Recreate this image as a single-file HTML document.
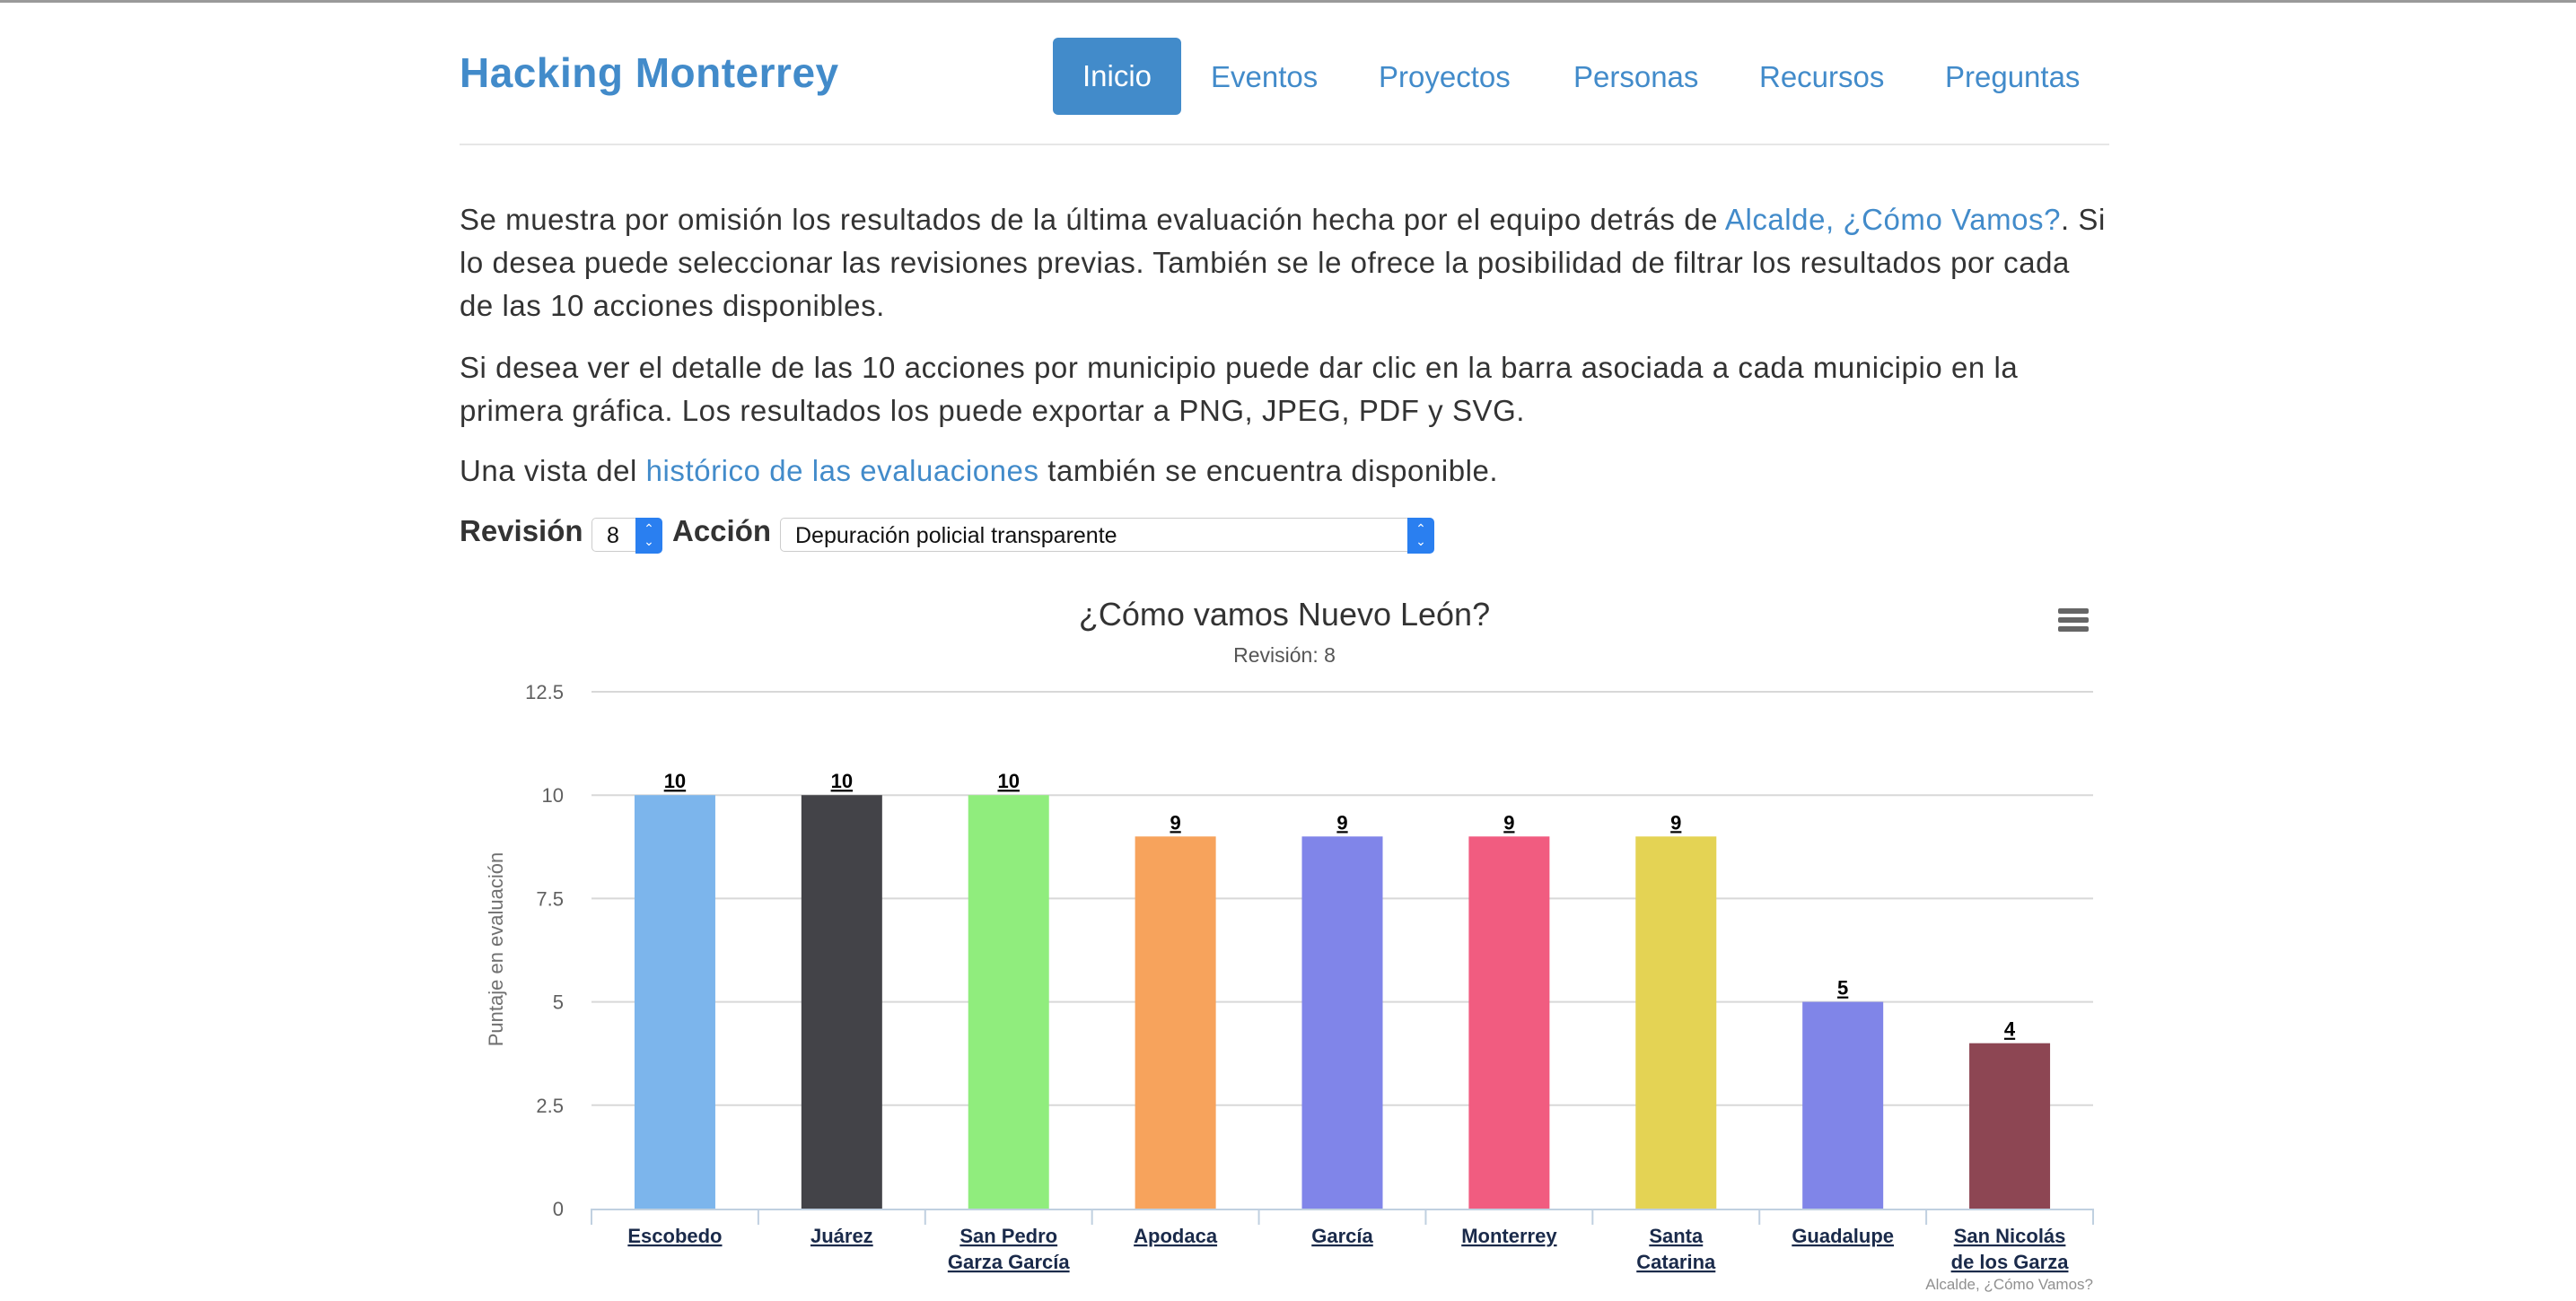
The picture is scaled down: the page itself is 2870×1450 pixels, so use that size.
<!DOCTYPE html>
<html><head><meta charset="utf-8">
<style>
body{margin:0;width:2870px;height:1450px;background:#fff;font-family:"Liberation Sans",Arial,sans-serif;overflow:hidden;position:relative}
.topline{position:absolute;left:0;top:0;width:2870px;height:3px;background:#9a9a9a}
.brand{position:absolute;left:512px;top:54px;font-size:46px;font-weight:bold;color:#428bca;text-decoration:none;letter-spacing:0.5px}
.nav a{position:absolute;top:64px;font-size:33px;color:#428bca;text-decoration:none;line-height:44px}
.nav a.active{background:#428bca;color:#fff;left:1173px;top:42px;width:143px;height:86px;line-height:86px;text-align:center;border-radius:6px}
.hr{position:absolute;left:512px;top:160px;width:1838px;height:2px;background:#e6e6e6}
.p{position:absolute;left:512px;font-size:33px;color:#333;line-height:48px;white-space:nowrap;letter-spacing:0.55px}
.p a{color:#428bca;text-decoration:none}
.lbl{position:absolute;top:573px;font-size:33px;font-weight:bold;color:#333}
.sel{position:absolute;top:577px;height:38px;border:1px solid #ccc;border-radius:5px;background:#fff;font-size:25px;line-height:38px;box-sizing:border-box;padding-left:16px;color:#111}
.sel .arr{position:absolute;right:-1px;top:-1px;width:30px;height:40px;background:#2a7ff0;border-radius:0 5px 5px 0;color:#fff;font-size:14px;line-height:14px;text-align:center;padding-top:5px;box-sizing:border-box}
svg{position:absolute;left:0;top:0}
</style></head><body>
<div class="topline"></div>
<a class="brand">Hacking Monterrey</a>
<div class="nav">
<a class="active">Inicio</a>
<a style="left:1349px">Eventos</a>
<a style="left:1536px">Proyectos</a>
<a style="left:1753px">Personas</a>
<a style="left:1960px">Recursos</a>
<a style="left:2167px">Preguntas</a>
</div>
<div class="hr"></div>
<div class="p" style="top:221px">Se muestra por omisión los resultados de la última evaluación hecha por el equipo detrás de <a>Alcalde, ¿Cómo Vamos?</a>. Si<br>lo desea puede seleccionar las revisiones previas. También se le ofrece la posibilidad de filtrar los resultados por cada<br>de las 10 acciones disponibles.</div>
<div class="p" style="top:386px">Si desea ver el detalle de las 10 acciones por municipio puede dar clic en la barra asociada a cada municipio en la<br>primera gráfica. Los resultados los puede exportar a PNG, JPEG, PDF y SVG.</div>
<div class="p" style="top:501px">Una vista del <a>histórico de las evaluaciones</a> también se encuentra disponible.</div>
<div class="lbl" style="left:512px">Revisión</div>
<div class="sel" style="left:659px;width:79px">8<div class="arr">⌃<br>⌄</div></div>
<div class="lbl" style="left:749px">Acción</div>
<div class="sel" style="left:869px;width:729px">Depuración policial transparente<div class="arr">⌃<br>⌄</div></div>
<svg id="chart" width="2870" height="1450"></svg>
<script>
const categories=[["Escobedo"],["Juárez"],["San Pedro","Garza García"],["Apodaca"],["García"],["Monterrey"],["Santa","Catarina"],["Guadalupe"],["San Nicolás","de los Garza"]];
const values=[10,10,10,9,9,9,9,5,4];
const colors=["#7cb5ec","#434348","#90ed7d","#f7a35c","#8085e9","#f15c80","#e4d354","#8085e8","#8d4653"];
const yTicks=[0,2.5,5,7.5,10,12.5];
const NS="http://www.w3.org/2000/svg";
const svg=document.getElementById('chart');
const x0=659,x1=2332,yBase=1347,yTop=771,yMax=12.5;
const yS=v=>yBase-(yBase-yTop)*v/yMax;
const cw=(x1-x0)/categories.length;
function mk(t,a,txt){const e=document.createElementNS(NS,t);for(const k in a)e.setAttribute(k,a[k]);if(txt!==undefined)e.textContent=txt;svg.appendChild(e);return e;}
let e;
e=mk('text',{x:1431,y:697,'text-anchor':'middle','font-size':36,fill:'#333'},'¿Cómo vamos Nuevo León?');


e=mk('text',{x:1431,y:738,'text-anchor':'middle','font-size':23,fill:'#555'},'Revisión: 8');


e=mk('g',{});


for(let i=0;i<3;i++){const r=document.createElementNS(NS,'rect');r.setAttribute('x',2293);r.setAttribute('y',678+i*10);r.setAttribute('width',34);r.setAttribute('height',6);r.setAttribute('rx',2);r.setAttribute('fill','#666');e.appendChild(r);}
yTicks.forEach(v=>{
 const y=yS(v);
 if(v>0){e=mk('line',{x1:x0,x2:x1,y1:y,y2:y,stroke:'#d8d8d8','stroke-width':2});
 
 }
 e=mk('text',{x:628,y:y+8,'text-anchor':'end','font-size':22,fill:'#606060'},String(v));
 
 
});
e=mk('text',{transform:'translate(560,1058) rotate(-90)','text-anchor':'middle','font-size':22,fill:'#707070'},'Puntaje en evaluación');


e=mk('line',{x1:x0,x2:x1,y1:yBase+1,y2:yBase+1,stroke:'#c0d0e0','stroke-width':2});


for(let i=0;i<=categories.length;i++){
 e=mk('line',{x1:x0+i*cw,x2:x0+i*cw,y1:yBase,y2:yBase+18,stroke:'#c0d0e0','stroke-width':2});
 
 
}
const bw=90;
values.forEach((v,i)=>{
 const cx=x0+cw*(i+0.5);
 e=mk('rect',{x:cx-bw/2,y:yS(v),width:bw,height:yBase-yS(v),fill:colors[i]});
 
 
 e=mk('text',{x:cx,y:yS(v)-8,'text-anchor':'middle','font-size':22,'font-weight':'bold',fill:'#000','text-decoration':'underline'},String(v));
 
 
 categories[i].forEach((ln,j)=>{
  e=mk('text',{x:cx,y:1385+j*29,'text-anchor':'middle','font-size':22,'font-weight':'bold',fill:'#1a2a4a','text-decoration':'underline'},ln);
  
  
 });
});
e=mk('text',{x:2332,y:1437,'text-anchor':'end','font-size':17,fill:'#909090'},'Alcalde, ¿Cómo Vamos?');


</script>
</body></html>
